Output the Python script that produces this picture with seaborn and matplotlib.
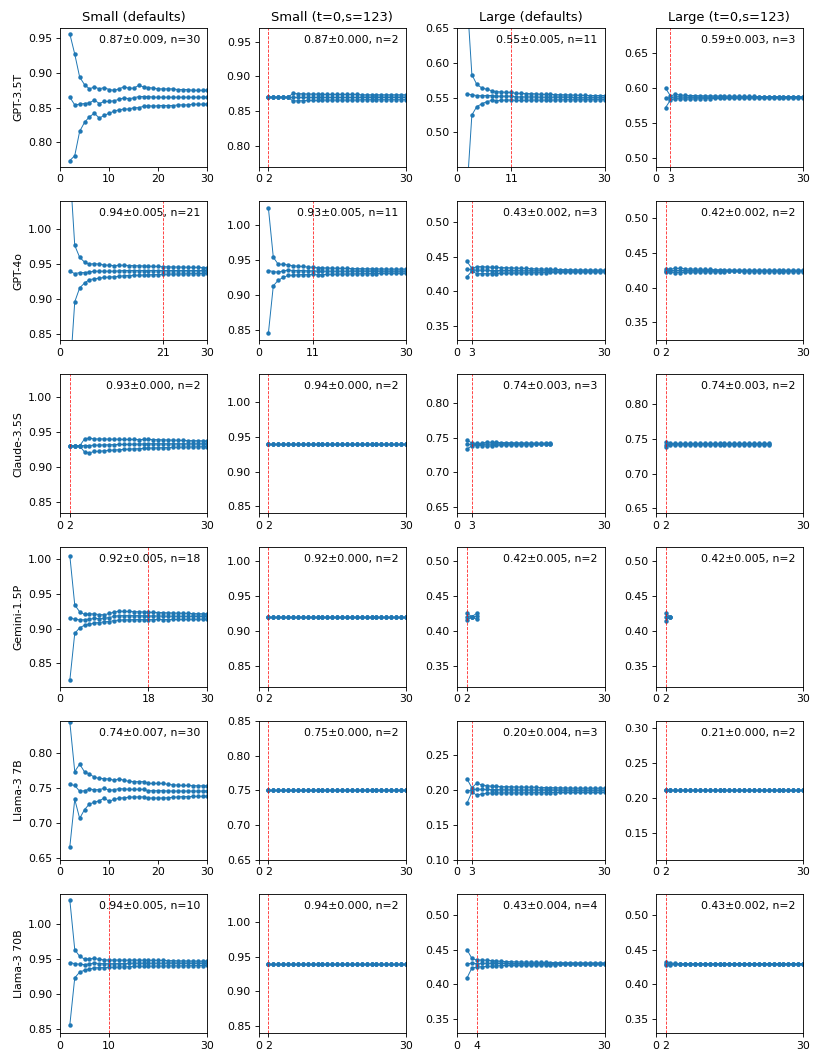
import numpy as np
import pandas as pd
import matplotlib
matplotlib.use('Agg')
import matplotlib.pyplot as plt
import seaborn as sns

# ==========================================
# DATA (running mean and half-width of the interval, first point at n=2)
# ==========================================
models = ['GPT-3.5T', 'GPT-4o', 'Claude-3.5S', 'Gemini-1.5P', 'Llama-3 7B', 'Llama-3 70B']
settings = ['Small (defaults)', 'Small (t=0,s=123)', 'Large (defaults)', 'Large (t=0,s=123)']

# --- GPT-3.5T
g35_sd_mean = [0.865, 0.854, 0.855, 0.856, 0.857, 0.861, 0.856, 0.859, 0.859, 0.860,
               0.862, 0.864, 0.863, 0.864, 0.866, 0.866, 0.866, 0.865, 0.865, 0.865,
               0.865, 0.865, 0.865, 0.865, 0.865, 0.865, 0.865, 0.865, 0.865]
g35_sd_hw = [0.091, 0.073, 0.039, 0.027, 0.020, 0.019, 0.021, 0.020, 0.017, 0.015,
             0.015, 0.016, 0.015, 0.014, 0.016, 0.014, 0.013, 0.013, 0.012, 0.012,
             0.012, 0.012, 0.011, 0.011, 0.011, 0.010, 0.010, 0.010, 0.010]
g35_st_mean = [0.870, 0.870, 0.870, 0.870, 0.870, 0.870, 0.870, 0.870, 0.870, 0.870,
               0.870, 0.870, 0.870, 0.870, 0.870, 0.870, 0.870, 0.870, 0.870, 0.870,
               0.870, 0.870, 0.870, 0.870, 0.870, 0.870, 0.870, 0.870, 0.870]
g35_st_hw = [0, 0, 0, 0, 0, 0.0055, 0.005, 0.005, 0.0045, 0.0045,
             0.0045, 0.004, 0.004, 0.004, 0.004, 0.004, 0.004, 0.004, 0.004, 0.0035,
             0.0035, 0.0035, 0.0035, 0.0035, 0.0035, 0.0035, 0.0035, 0.0035, 0.0035]
g35_ld_mean = [0.555, 0.554, 0.553, 0.5525, 0.553, 0.553, 0.552, 0.552, 0.552, 0.552,
               0.551, 0.551, 0.551, 0.551, 0.551, 0.5505, 0.5505, 0.5505, 0.5505, 0.5505,
               0.5505, 0.5505, 0.550, 0.550, 0.550, 0.550, 0.550, 0.550, 0.550]
g35_ld_hw = [0.14, 0.029, 0.016, 0.0115, 0.009, 0.007, 0.0065, 0.006, 0.0055, 0.0055,
             0.005, 0.005, 0.0048, 0.0046, 0.0044, 0.0042, 0.004, 0.004, 0.0038, 0.0036,
             0.0035, 0.0034, 0.0033, 0.0032, 0.0031, 0.003, 0.003, 0.003, 0.003]
g35_lt_mean = [0.586, 0.586, 0.588, 0.5875, 0.587, 0.587, 0.587, 0.587, 0.587, 0.587,
               0.587, 0.587, 0.587, 0.587, 0.587, 0.587, 0.587, 0.587, 0.587, 0.587,
               0.587, 0.587, 0.587, 0.587, 0.587, 0.587, 0.587, 0.587, 0.587]
g35_lt_hw = [0.014, 0.003, 0.003, 0.0028, 0.0026, 0.0025, 0.0024, 0.0022, 0.002, 0.002,
             0.0018, 0.0017, 0.0016, 0.0015, 0.0014, 0.0013, 0.0012, 0.0012, 0.0011, 0.001,
             0.001, 0.001, 0.001, 0.001, 0.001, 0.001, 0.001, 0.001, 0.001]

# --- GPT-4o
g4o_sd_mean = [0.940, 0.9365, 0.938, 0.938, 0.939, 0.940, 0.940, 0.940, 0.940, 0.940,
               0.9405, 0.941, 0.941, 0.941, 0.941, 0.941, 0.941, 0.941, 0.941, 0.941,
               0.941, 0.941, 0.941, 0.941, 0.941, 0.941, 0.941, 0.941, 0.941]
g4o_sd_hw = [0.15, 0.0405, 0.022, 0.015, 0.011, 0.011, 0.010, 0.009, 0.0085, 0.008,
             0.008, 0.0075, 0.0072, 0.007, 0.0068, 0.0065, 0.0062, 0.006, 0.0058, 0.0055,
             0.0052, 0.005, 0.005, 0.0048, 0.0046, 0.0045, 0.0044, 0.0043, 0.0042]
g4o_st_mean = [0.935, 0.9335, 0.9325, 0.9345, 0.9355, 0.935, 0.935, 0.935, 0.9345, 0.9345,
               0.934, 0.934, 0.934, 0.934, 0.934, 0.934, 0.934, 0.934, 0.934, 0.934,
               0.934, 0.934, 0.934, 0.934, 0.934, 0.934, 0.934, 0.934, 0.934]
g4o_st_hw = [0.090, 0.0205, 0.0115, 0.0095, 0.0075, 0.0068, 0.0062, 0.0058, 0.0055, 0.0052,
             0.005, 0.0048, 0.0046, 0.0044, 0.0042, 0.004, 0.004, 0.0038, 0.0037, 0.0036,
             0.0035, 0.0034, 0.0033, 0.0032, 0.0031, 0.003, 0.003, 0.003, 0.003]
g4o_ld_mean = [0.432, 0.431, 0.4305, 0.4305, 0.4303, 0.430, 0.430, 0.430, 0.430, 0.430,
               0.4298, 0.4298, 0.4297, 0.4297, 0.4296, 0.4296, 0.4295, 0.4295, 0.4295, 0.4294,
               0.4294, 0.4294, 0.4293, 0.4293, 0.4293, 0.4293, 0.4293, 0.4293, 0.4293]
g4o_ld_hw = [0.011, 0.002, 0.005, 0.005, 0.0048, 0.0046, 0.0044, 0.0042, 0.004, 0.0038,
             0.0036, 0.0034, 0.0032, 0.003, 0.0028, 0.0026, 0.0024, 0.0022, 0.002, 0.002,
             0.0018, 0.0017, 0.0016, 0.0015, 0.0015, 0.0014, 0.0014, 0.0013, 0.0013]
g4o_lt_mean = [0.4245, 0.4245, 0.4245, 0.4245, 0.4245, 0.4245, 0.4245, 0.4245, 0.4245, 0.4245,
               0.4243, 0.4243, 0.4242, 0.4242, 0.4241, 0.4241, 0.424, 0.424, 0.424, 0.424,
               0.424, 0.424, 0.424, 0.424, 0.424, 0.424, 0.424, 0.424, 0.424]
g4o_lt_hw = [0.002, 0.002, 0.003, 0.003, 0.0025, 0.002, 0.002, 0.0018, 0.0016, 0.0015,
             0.0014, 0.0013, 0.0012, 0.0011, 0.001, 0.001, 0.001, 0.001, 0.001, 0.001,
             0.001, 0.001, 0.001, 0.001, 0.001, 0.001, 0.001, 0.001, 0.001]

# --- Claude-3.5S
cl_sd_mean = [0.930, 0.930, 0.930, 0.9305, 0.9305, 0.931, 0.931, 0.9315, 0.9315, 0.9318,
              0.932, 0.932, 0.9322, 0.9325, 0.9325, 0.9328, 0.933, 0.933, 0.933, 0.933,
              0.933, 0.933, 0.933, 0.933, 0.933, 0.933, 0.933, 0.933, 0.933]
cl_sd_hw = [0, 0, 0, 0.0095, 0.0105, 0.009, 0.0088, 0.0085, 0.008, 0.0078,
            0.0075, 0.0072, 0.007, 0.0068, 0.0066, 0.0064, 0.0062, 0.006, 0.0058, 0.0056,
            0.0054, 0.0052, 0.005, 0.0048, 0.0046, 0.0045, 0.0044, 0.0042, 0.004]
cl_st_mean = [0.940, 0.940, 0.940, 0.940, 0.940, 0.940, 0.940, 0.940, 0.940, 0.940,
              0.940, 0.940, 0.940, 0.940, 0.940, 0.940, 0.940, 0.940, 0.940, 0.940,
              0.940, 0.940, 0.940, 0.940, 0.940, 0.940, 0.940, 0.940, 0.940]
cl_st_hw = None
cl_ld_mean = [0.740, 0.740, 0.740, 0.740, 0.7405, 0.7405, 0.741, 0.741, 0.741, 0.741,
              0.741, 0.741, 0.741, 0.741, 0.741, 0.741, 0.741, 0.741]
cl_ld_hw = [0.0065, 0.002, 0.0015, 0.0015, 0.003, 0.0025, 0.002, 0.0018, 0.0016, 0.0015,
            0.0014, 0.0013, 0.0012, 0.0011, 0.001, 0.001, 0.001, 0.001]
cl_lt_mean = [0.7415, 0.7425, 0.7425, 0.7425, 0.7425, 0.7425, 0.7425, 0.7425, 0.7425, 0.7425,
              0.7425, 0.7425, 0.7425, 0.7425, 0.7425, 0.7425, 0.7425, 0.7425, 0.7425, 0.7425,
              0.7425, 0.7425]
cl_lt_hw = [0.0035, 0.001, 0.001, 0.001, 0.001, 0.001, 0.001, 0.001, 0.001, 0.001,
            0.001, 0.001, 0.001, 0.001, 0.001, 0.001, 0.001, 0.001, 0.001, 0.001,
            0.001, 0.001]

# --- Gemini-1.5P
gm_sd_mean = [0.915, 0.9135, 0.9125, 0.9125, 0.9135, 0.9145, 0.9143, 0.9147, 0.9158, 0.9175,
              0.9185, 0.9185, 0.9185, 0.9185, 0.9185, 0.9182, 0.918, 0.918, 0.918, 0.9178,
              0.9177, 0.9176, 0.9175, 0.9175, 0.9174, 0.9174, 0.9173, 0.9173, 0.9173]
gm_sd_hw = [0.0895, 0.0205, 0.0115, 0.0077, 0.0075, 0.0065, 0.0057, 0.005, 0.0058, 0.006,
            0.0065, 0.006, 0.006, 0.0058, 0.0056, 0.0055, 0.0053, 0.0052, 0.005, 0.0049,
            0.0048, 0.0046, 0.0045, 0.0044, 0.0042, 0.0041, 0.004, 0.0039, 0.0038]
gm_st_mean = [0.9205, 0.9205, 0.9205, 0.9205, 0.9205, 0.9205, 0.9205, 0.9205, 0.9205, 0.9205,
              0.9205, 0.9205, 0.9205, 0.9205, 0.9205, 0.9205, 0.9205, 0.9205, 0.9205, 0.9205,
              0.9205, 0.9205, 0.9205, 0.9205, 0.9205, 0.9205, 0.9205, 0.9205, 0.9205]
gm_st_hw = None
gm_ld_mean = [0.4205, 0.4205, 0.421]
gm_ld_hw = [0.005, 0.0, 0.0045]
gm_lt_mean = [0.420, 0.420]
gm_lt_hw = [0.0055, 0.0]

# --- Llama-3 7B
l7_sd_mean = [0.755, 0.7536, 0.7452, 0.746, 0.7485, 0.7474, 0.7476, 0.7495, 0.7467, 0.7474,
              0.749, 0.7485, 0.748, 0.748, 0.748, 0.748, 0.746, 0.746, 0.746, 0.746,
              0.7455, 0.7455, 0.7455, 0.7455, 0.7455, 0.7455, 0.7455, 0.7455, 0.7455]
l7_sd_hw = [0.0895, 0.020, 0.039, 0.027, 0.0215, 0.018, 0.016, 0.014, 0.016, 0.0137,
            0.014, 0.0125, 0.0115, 0.011, 0.011, 0.011, 0.0105, 0.0105, 0.0105, 0.0105,
            0.0095, 0.009, 0.0085, 0.008, 0.008, 0.0078, 0.0076, 0.0075, 0.0075]
l7_st_mean = [0.750, 0.750, 0.750, 0.750, 0.750, 0.750, 0.750, 0.750, 0.750, 0.750,
              0.750, 0.750, 0.750, 0.750, 0.750, 0.750, 0.750, 0.750, 0.750, 0.750,
              0.750, 0.750, 0.750, 0.750, 0.750, 0.750, 0.750, 0.750, 0.750]
l7_st_hw = None
l7_ld_mean = [0.1985, 0.200, 0.2012, 0.2007, 0.2007, 0.2005, 0.2005, 0.2003, 0.2003, 0.2002,
              0.200, 0.200, 0.200, 0.200, 0.200, 0.1998, 0.1998, 0.1998, 0.1997, 0.1997,
              0.1996, 0.1996, 0.1995, 0.1995, 0.1995, 0.1995, 0.1995, 0.1995, 0.1995]
l7_ld_hw = [0.0175, 0.003, 0.0087, 0.0065, 0.0055, 0.0048, 0.0046, 0.0045, 0.0044, 0.0043,
            0.0042, 0.0041, 0.004, 0.0039, 0.0038, 0.0037, 0.0036, 0.0035, 0.0034, 0.0033,
            0.0032, 0.0031, 0.003, 0.003, 0.003, 0.003, 0.003, 0.003, 0.003]
l7_lt_mean = [0.2115, 0.2115, 0.2115, 0.2115, 0.2115, 0.2115, 0.2115, 0.2115, 0.2115, 0.2115,
              0.2115, 0.2115, 0.2115, 0.2115, 0.2115, 0.2115, 0.2115, 0.2115, 0.2115, 0.2115,
              0.2115, 0.2115, 0.2115, 0.2115, 0.2115, 0.2115, 0.2115, 0.2115, 0.2115]
l7_lt_hw = None

# --- Llama-3 70B
l70_sd_mean = [0.945, 0.9433, 0.9425, 0.942, 0.943, 0.9442, 0.9435, 0.9433, 0.9433, 0.9433,
               0.9435, 0.9435, 0.9437, 0.944, 0.944, 0.944, 0.944, 0.944, 0.944, 0.944,
               0.944, 0.944, 0.9438, 0.9438, 0.9438, 0.9438, 0.9438, 0.9438, 0.9438]
l70_sd_hw = [0.0897, 0.0203, 0.0113, 0.008, 0.0073, 0.0067, 0.006, 0.0055, 0.0053, 0.0052,
             0.005, 0.0048, 0.0046, 0.0045, 0.0044, 0.0043, 0.0042, 0.0041, 0.004, 0.004,
             0.0038, 0.0037, 0.0036, 0.0035, 0.0034, 0.0033, 0.0032, 0.0031, 0.003]
l70_st_mean = [0.940, 0.940, 0.940, 0.940, 0.940, 0.940, 0.940, 0.940, 0.940, 0.940,
               0.940, 0.940, 0.940, 0.940, 0.940, 0.940, 0.940, 0.940, 0.940, 0.940,
               0.940, 0.940, 0.940, 0.940, 0.940, 0.940, 0.940, 0.940, 0.940]
l70_st_hw = None
l70_ld_mean = [0.4296, 0.4305, 0.430, 0.4303, 0.4303, 0.4302, 0.4302, 0.4301, 0.4301, 0.430,
               0.430, 0.430, 0.430, 0.430, 0.430, 0.430, 0.430, 0.430, 0.430, 0.430,
               0.430, 0.430, 0.430, 0.430, 0.430, 0.430, 0.430, 0.430, 0.430]
l70_ld_hw = [0.0204, 0.007, 0.005, 0.0048, 0.0045, 0.004, 0.0035, 0.003, 0.0028, 0.0026,
             0.0024, 0.0022, 0.002, 0.002, 0.0018, 0.0017, 0.0016, 0.0015, 0.0014, 0.0013,
             0.0012, 0.0012, 0.0011, 0.0011, 0.001, 0.001, 0.001, 0.001, 0.001]
l70_lt_mean = [0.4296, 0.4296, 0.4296, 0.4296, 0.4296, 0.4296, 0.4296, 0.4296, 0.4296, 0.4296,
               0.4296, 0.4296, 0.4296, 0.4296, 0.4296, 0.4296, 0.4296, 0.4296, 0.4296, 0.4296,
               0.4296, 0.4296, 0.4296, 0.4296, 0.4296, 0.4296, 0.4296, 0.4296, 0.4296]
l70_lt_hw = [0.002, 0.001, 0.0005, 0, 0, 0, 0, 0, 0, 0,
             0, 0, 0, 0, 0, 0, 0, 0, 0, 0,
             0, 0, 0, 0, 0, 0, 0, 0, 0]

# stopping point n per panel and the annotation shown in the corner
stop_n = [[30, 2, 11, 3],
          [21, 11, 3, 2],
          [2, 2, 3, 2],
          [18, 2, 2, 2],
          [30, 2, 3, 2],
          [10, 2, 4, 2]]
notes = [['0.87±0.009, n=30', '0.87±0.000, n=2', '0.55±0.005, n=11', '0.59±0.003, n=3'],
         ['0.94±0.005, n=21', '0.93±0.005, n=11', '0.43±0.002, n=3', '0.42±0.002, n=2'],
         ['0.93±0.000, n=2', '0.94±0.000, n=2', '0.74±0.003, n=3', '0.74±0.003, n=2'],
         ['0.92±0.005, n=18', '0.92±0.000, n=2', '0.42±0.005, n=2', '0.42±0.005, n=2'],
         ['0.74±0.007, n=30', '0.75±0.000, n=2', '0.20±0.004, n=3', '0.21±0.000, n=2'],
         ['0.94±0.005, n=10', '0.94±0.000, n=2', '0.43±0.004, n=4', '0.43±0.002, n=2']]
# centre of the y window (window is +-0.1)
y_center = [[0.865, 0.870, 0.5505, 0.587],
            [0.941, 0.935, 0.430, 0.4245],
            [0.933, 0.940, 0.741, 0.743],
            [0.9165, 0.920, 0.420, 0.420],
            [0.7466, 0.750, 0.1995, 0.211],
            [0.9435, 0.940, 0.430, 0.430]]

panels = [[(g35_sd_mean, g35_sd_hw), (g35_st_mean, g35_st_hw), (g35_ld_mean, g35_ld_hw), (g35_lt_mean, g35_lt_hw)],
          [(g4o_sd_mean, g4o_sd_hw), (g4o_st_mean, g4o_st_hw), (g4o_ld_mean, g4o_ld_hw), (g4o_lt_mean, g4o_lt_hw)],
          [(cl_sd_mean, cl_sd_hw), (cl_st_mean, cl_st_hw), (cl_ld_mean, cl_ld_hw), (cl_lt_mean, cl_lt_hw)],
          [(gm_sd_mean, gm_sd_hw), (gm_st_mean, gm_st_hw), (gm_ld_mean, gm_ld_hw), (gm_lt_mean, gm_lt_hw)],
          [(l7_sd_mean, l7_sd_hw), (l7_st_mean, l7_st_hw), (l7_ld_mean, l7_ld_hw), (l7_lt_mean, l7_lt_hw)],
          [(l70_sd_mean, l70_sd_hw), (l70_st_mean, l70_st_hw), (l70_ld_mean, l70_ld_hw), (l70_lt_mean, l70_lt_hw)]]

# ==========================================
# PLOT (matplotlib defaults scaled down a bit)
# ==========================================
s = 0.78
plt.rcParams.update({
    'axes.linewidth': 0.8 * s,
    'xtick.major.size': 3.5 * s, 'ytick.major.size': 3.5 * s,
    'xtick.major.width': 0.8 * s, 'ytick.major.width': 0.8 * s,
    'xtick.major.pad': 3.5 * s, 'ytick.major.pad': 3.5 * s,
    'axes.labelpad': 4 * s, 'axes.titlepad': 6 * s,
})

fig, axes = plt.subplots(6, 4, figsize=(8.22, 10.64), dpi=100)
fig.subplots_adjust(left=0.073, right=0.977, top=0.974, bottom=0.029,
                    wspace=0.347, hspace=0.245)

for i, model in enumerate(models):
    for j, setting in enumerate(settings):
        ax = axes[i, j]
        mean, hw = panels[i][j]
        mean = np.asarray(mean, dtype=float)
        hw = np.zeros_like(mean) if hw is None else np.asarray(hw, dtype=float)
        n = np.arange(2, 2 + len(mean))
        df = pd.DataFrame({
            'n': np.tile(n, 3),
            'acc': np.concatenate([mean + hw, mean, mean - hw]),
            'band': np.repeat(['upper', 'mean', 'lower'], len(n)),
        })
        sns.lineplot(data=df, x='n', y='acc', units='band', estimator=None,
                     color='#1f77b4', marker='o', markersize=3.2, markeredgewidth=0,
                     linewidth=0.7, ax=ax)
        ax.axvline(stop_n[i][j], color='red', ls='--', lw=0.6, alpha=0.85)

        c = y_center[i][j]
        ax.set_xlim(0, 30)
        ax.set_ylim(c - 0.1, c + 0.1)
        if stop_n[i][j] < 30:
            ax.set_xticks([0, stop_n[i][j], 30])
        ax.text(0.95, 0.95, notes[i][j], transform=ax.transAxes,
                ha='right', va='top', fontsize=7.8)
        ax.set_xlabel('')
        ax.set_ylabel(model if j == 0 else '', fontsize=7.8)
        if i == 0:
            ax.set_title(setting, fontsize=9.4)
        ax.tick_params(labelsize=7.8)

fig.savefig('out.png', dpi=100)
